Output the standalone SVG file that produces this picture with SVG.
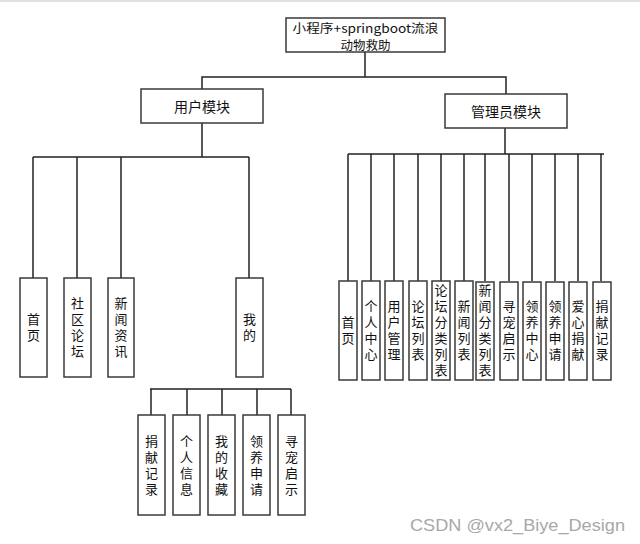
<svg xmlns="http://www.w3.org/2000/svg" width="640" height="544" viewBox="0 0 640 544">
<style>
.box{fill:#fff;stroke:#3a3a3a;stroke-width:1.5}
.t{font-family:"Noto Sans CJK SC","Liberation Sans",sans-serif;font-size:13px;fill:#111;text-anchor:middle;dominant-baseline:central}
.h{font-size:14px}
.r{font-size:12px}
.v{font-family:"Noto Sans CJK SC","Liberation Sans",sans-serif;font-size:13px;fill:#111;text-anchor:middle;writing-mode:vertical-rl;letter-spacing:3px;text-orientation:upright}
.ln{fill:none;stroke:#222;stroke-width:1.5}
</style>
<rect x="0" y="0" width="640" height="2" fill="#e2e2e2"/>
<g id="connectors">
<path class="ln" d="M365 52V77M202 89V77H506V94"/>
<path class="ln" d="M202 123V157M33 157H249M33 157V278M77 157V278M121 157V278M249 157V278"/>
<path class="ln" d="M505 128V154M348 154H604M348 154V281M371 154V281M394 154V281M418 154V281M441 154V281M464 154V281M485 154V281M509 154V281M532 154V281M555 154V281M578 154V281M601 154V281"/>
<path class="ln" d="M150 389H291M151 389V415M187 389V415M222 389V415M257 389V415M291 389V415"/>
</g>
<g id="root"><rect class="box" x="286" y="18" width="159" height="34"/>
<text class="t r" x="365.5" y="27" textLength="146" lengthAdjust="spacingAndGlyphs">小程序+springboot流浪</text>
<text class="t" x="365.5" y="44.5" style="font-size:12.5px">动物救助</text></g>
<g id="user"><rect class="box" x="141" y="89" width="122" height="34"/><text class="t h" x="202" y="106">用户模块</text></g>
<g id="admin"><rect class="box" x="445" y="94" width="122" height="34"/><text class="t h" x="506" y="111">管理员模块</text></g>

<g id="u1"><rect class="box" x="20" y="278" width="27" height="99"/><text class="v" x="33.5" y="329">首页</text></g>
<g id="u2"><rect class="box" x="64" y="278" width="27" height="99"/><text class="v" x="77.5" y="329">社区论坛</text></g>
<g id="u3"><rect class="box" x="108" y="278" width="26" height="99"/><text class="v" x="121" y="329">新闻资讯</text></g>
<g id="u4"><rect class="box" x="236" y="278" width="27" height="99"/><text class="v" x="249.5" y="329">我的</text></g>

<g id="a1"><rect class="box" x="339" y="281" width="18" height="99"/><text class="v" x="348" y="331.5">首页</text></g>
<g id="a2"><rect class="box" x="362" y="281" width="18" height="99"/><text class="v" x="371" y="331.5">个人中心</text></g>
<g id="a3"><rect class="box" x="385" y="281" width="18" height="99"/><text class="v" x="394" y="331.5">用户管理</text></g>
<g id="a4"><rect class="box" x="409" y="281" width="18" height="99"/><text class="v" x="418" y="331.5">论坛列表</text></g>
<g id="a5"><rect class="box" x="432" y="281" width="18" height="99"/><text class="v" x="441" y="331.5">论坛分类列表</text></g>
<g id="a6"><rect class="box" x="455" y="281" width="18" height="99"/><text class="v" x="464" y="331.5">新闻列表</text></g>
<g id="a7"><rect class="box" x="476" y="282" width="18" height="98"/><text class="v" x="485" y="331.5">新闻分类列表</text></g>
<g id="a8"><rect class="box" x="500" y="282" width="18" height="98"/><text class="v" x="509" y="331.5">寻宠启示</text></g>
<g id="a9"><rect class="box" x="523" y="282" width="18" height="98"/><text class="v" x="532" y="331.5">领养中心</text></g>
<g id="a10"><rect class="box" x="546" y="282" width="18" height="98"/><text class="v" x="555" y="331.5">领养申请</text></g>
<g id="a11"><rect class="box" x="569" y="282" width="18" height="98"/><text class="v" x="578" y="331.5">爱心捐献</text></g>
<g id="a12"><rect class="box" x="593" y="282" width="18" height="98"/><text class="v" x="602" y="331.5">捐献记录</text></g>

<g id="m1"><rect class="box" x="138" y="415" width="27" height="100"/><text class="v" x="151.5" y="466.5">捐献记录</text></g>
<g id="m2"><rect class="box" x="173" y="415" width="27" height="100"/><text class="v" x="186.5" y="466.5">个人信息</text></g>
<g id="m3"><rect class="box" x="208" y="415" width="27" height="100"/><text class="v" x="221.5" y="466.5">我的收藏</text></g>
<g id="m4"><rect class="box" x="243" y="415" width="27" height="100"/><text class="v" x="256.5" y="466.5">领养申请</text></g>
<g id="m5"><rect class="box" x="278" y="415" width="27" height="100"/><text class="v" x="291.5" y="466.5">寻宠启示</text></g>

<text x="410" y="531" font-family="Liberation Sans, sans-serif" font-size="17" fill="#a8a8a8" textLength="215" lengthAdjust="spacingAndGlyphs">CSDN @vx2_Biye_Design</text>
</svg>
